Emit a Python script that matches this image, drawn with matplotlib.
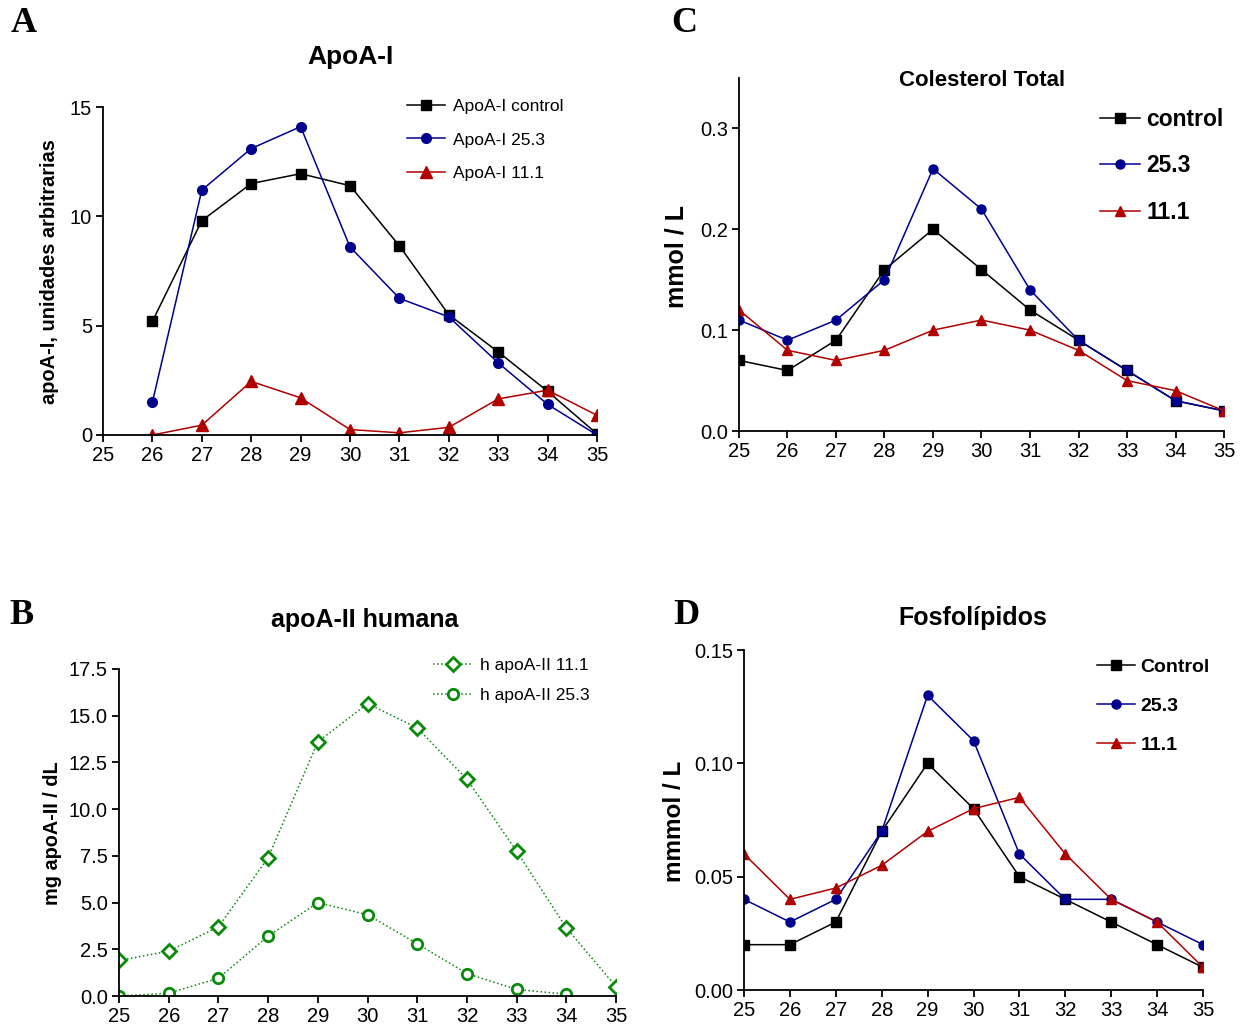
import numpy as np
import matplotlib
matplotlib.use('Agg')
import matplotlib.pyplot as plt
from matplotlib import ticker

plt.rcParams['font.family'] = ['Liberation Sans', 'DejaVu Sans']

# ========== data ==========
fractions = [25, 26, 27, 28, 29, 30, 31, 32, 33, 34, 35]

# A - ApoA-I (fractions 26..35)
apoa1_x = [26, 27, 28, 29, 30, 31, 32, 33, 34, 35]
apoa1_control = [5.2, 9.8, 11.5, 11.95, 11.4, 8.65, 5.5, 3.8, 2.0, 0.05]
apoa1_253 = [1.5, 11.2, 13.1, 14.1, 8.6, 6.25, 5.4, 3.3, 1.4, 0.0]
apoa1_111 = [0.0, 0.45, 2.45, 1.7, 0.25, 0.1, 0.35, 1.65, 2.05, 0.9]

# B - apoA-II humana
apoa2_111 = [1.9, 2.4, 3.7, 7.4, 13.6, 15.65, 14.35, 11.6, 7.75, 3.65, 0.5]
apoa2_253_x = [25, 26, 27, 28, 29, 30, 31, 32, 33, 34]
apoa2_253 = [0.0, 0.15, 0.95, 3.2, 5.0, 4.35, 2.8, 1.2, 0.35, 0.1]

# C - Colesterol Total
col_control = [0.07, 0.06, 0.09, 0.16, 0.20, 0.16, 0.12, 0.09, 0.06, 0.03, 0.02]
col_253 = [0.11, 0.09, 0.11, 0.15, 0.26, 0.22, 0.14, 0.09, 0.06, 0.03, 0.02]
col_111 = [0.12, 0.08, 0.07, 0.08, 0.10, 0.11, 0.10, 0.08, 0.05, 0.04, 0.02]

# D - Fosfolipidos
fos_control = [0.02, 0.02, 0.03, 0.07, 0.10, 0.08, 0.05, 0.04, 0.03, 0.02, 0.01]
fos_253 = [0.04, 0.03, 0.04, 0.07, 0.13, 0.11, 0.06, 0.04, 0.04, 0.03, 0.02]
fos_111 = [0.06, 0.04, 0.045, 0.055, 0.07, 0.08, 0.085, 0.06, 0.04, 0.03, 0.01]

BLACK = '#000000'
BLUE = '#00008f'
RED = '#b00000'
GREEN = '#0a8a0a'

W, H = 1247, 1028
fig = plt.figure(figsize=(W / 100, H / 100), dpi=100, facecolor='white')


def px_ax(l, r, b, t):
    return fig.add_axes([l / W, 1 - b / H, (r - l) / W, (b - t) / H])


def style_ax(ax, ylim, yticks, yfmt):
    ax.set_xlim(25, 35)
    ax.set_ylim(*ylim)
    ax.set_xticks(fractions)
    ax.set_yticks(yticks)
    ax.yaxis.set_major_formatter(ticker.FormatStrFormatter(yfmt))
    for s in ['top', 'right']:
        ax.spines[s].set_visible(False)
    for s in ['left', 'bottom']:
        ax.spines[s].set_linewidth(1.3)
    ax.tick_params(axis='both', direction='out', length=5, width=1.3,
                   labelsize=14.5, pad=3)


def fig_legend(ax, x, y, fs, bold, hl, tp, ls):
    leg = ax.legend(loc='upper left', bbox_to_anchor=(x / W, 1 - y / H),
                    bbox_transform=fig.transFigure, frameon=False,
                    borderpad=0, borderaxespad=0, handlelength=hl,
                    handletextpad=tp, labelspacing=ls,
                    prop={'size': fs, 'weight': 'bold' if bold else 'normal'})
    return leg


lw = 1.1

# ---------- A ----------
axA = px_ax(103, 597, 435, 107)
axA.plot(apoa1_x, apoa1_control, color=BLACK, lw=lw, marker='s', ms=7, label='ApoA-I control')
axA.plot(apoa1_x, apoa1_253, color=BLUE, lw=lw, marker='o', ms=7, label='ApoA-I 25.3')
axA.plot(apoa1_x, apoa1_111, color=RED, lw=lw, marker='^', ms=8, label='ApoA-I 11.1')
style_ax(axA, (0, 15), [0, 5, 10, 15], '%d')
fig_legend(axA, 407, 99, 12.5, False, 2.2, 0.45, 1.05)

# ---------- C ----------
axC = px_ax(739, 1224, 431, 78)
axC.plot(fractions, col_control, color=BLACK, lw=lw, marker='s', ms=6.5, label='control')
axC.plot(fractions, col_253, color=BLUE, lw=lw, marker='o', ms=6.5, label='25.3')
axC.plot(fractions, col_111, color=RED, lw=lw, marker='^', ms=6.5, label='11.1')
style_ax(axC, (0, 0.35), [0.0, 0.1, 0.2, 0.3], '%.1f')
fig_legend(axC, 1100, 108, 16.5, True, 1.75, 0.28, 1.02)

# ---------- B ----------
axB = px_ax(119, 616, 996, 669)
axB.plot(fractions, apoa2_111, color=GREEN, lw=1.1, ls=':', marker='D', ms=7,
         mfc='white', mec=GREEN, mew=2, label='h apoA-II 11.1')
axB.plot(apoa2_253_x, apoa2_253, color=GREEN, lw=1.1, ls=':', marker='o', ms=7.5,
         mfc='white', mec=GREEN, mew=2, label='h apoA-II 25.3')
style_ax(axB, (0, 17.5), [0, 2.5, 5, 7.5, 10, 12.5, 15, 17.5], '%.1f')
fig_legend(axB, 433, 658, 12.5, False, 2.3, 0.4, 0.85)

# ---------- D ----------
axD = px_ax(744, 1203, 990, 650)
axD.plot(fractions, fos_control, color=BLACK, lw=lw, marker='s', ms=6.5, label='Control')
axD.plot(fractions, fos_253, color=BLUE, lw=lw, marker='o', ms=6.5, label='25.3')
axD.plot(fractions, fos_111, color=RED, lw=lw, marker='^', ms=6.5, label='11.1')
style_ax(axD, (0, 0.15), [0.0, 0.05, 0.10, 0.15], '%.2f')
fig_legend(axD, 1097, 658, 14, True, 1.95, 0.28, 1.1)

# ---------- titles ----------
fig.text(350 / W, 1 - 57 / H, 'ApoA-I', ha='center', va='center', fontsize=19, fontweight='bold')
fig.text(982 / W, 1 - 80 / H, 'Colesterol Total', ha='center', va='center', fontsize=16, fontweight='bold')
fig.text(365 / W, 1 - 620 / H, 'apoA-II humana', ha='center', va='center', fontsize=18, fontweight='bold')
fig.text(973 / W, 1 - 618 / H, 'Fosfolípidos', ha='center', va='center', fontsize=18, fontweight='bold')

# ---------- y labels ----------
fig.text(50 / W, 1 - 272 / H, 'apoA-I, unidades arbitrarias', rotation=90,
         ha='center', va='center', fontsize=14.4, fontweight='bold')
fig.text(677 / W, 1 - 256 / H, 'mmol / L', rotation=90,
         ha='center', va='center', fontsize=18, fontweight='bold')
fig.text(52 / W, 1 - 833 / H, 'mg apoA-II / dL', rotation=90,
         ha='center', va='center', fontsize=14.3, fontweight='bold')
fig.text(675 / W, 1 - 821 / H, 'mmmol / L', rotation=90,
         ha='center', va='center', fontsize=17.5, fontweight='bold')

# ---------- panel letters ----------
for letter, x, y in [('A', 24, 24), ('C', 684, 24), ('B', 22, 616), ('D', 686, 616)]:
    fig.text(x / W, 1 - y / H, letter, ha='center', va='center', fontsize=26,
             fontweight='bold', family=['Liberation Serif', 'DejaVu Serif'])

fig.savefig('out.png', dpi=100, facecolor='white')
plt.close(fig)
